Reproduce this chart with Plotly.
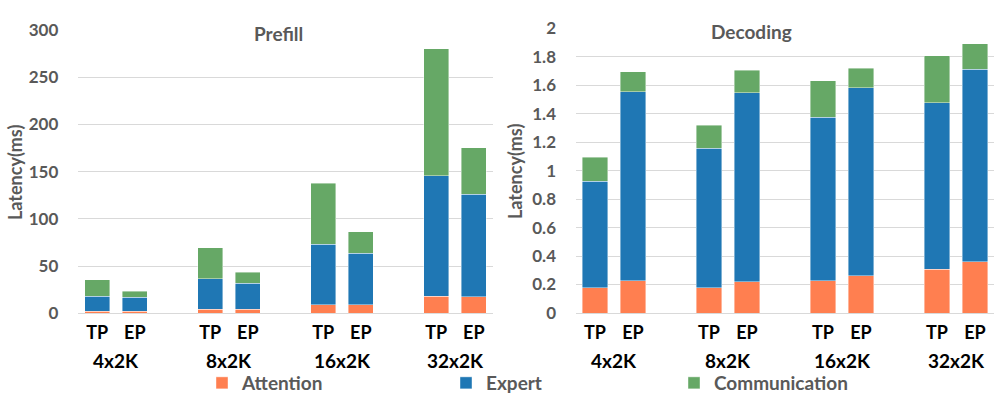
import plotly.graph_objects as go

# ---------------- data ----------------
groups = ["4x2K", "8x2K", "16x2K", "32x2K"]
modes = ["TP", "EP"]
series_names = ["Attention", "Expert", "Communication"]

# Prefill (ms): order per group TP, EP
prefill_attention = [2.1, 2.1, 4.5, 4.5, 9.2, 9.2, 18.0, 17.3]
prefill_expert = [16.2, 14.9, 32.2, 27.3, 63.9, 54.3, 127.8, 108.7]
prefill_comm = [17.0, 6.6, 32.8, 11.9, 64.6, 22.9, 134.2, 49.1]

# Decoding (ms)
decode_attention = [0.178, 0.225, 0.178, 0.220, 0.225, 0.262, 0.309, 0.360]
decode_expert = [0.749, 1.328, 0.981, 1.328, 1.150, 1.319, 1.168, 1.354]
decode_comm = [0.167, 0.142, 0.159, 0.159, 0.255, 0.138, 0.331, 0.178]

prefill_ticks = [0, 50, 100, 150, 200, 250, 300]
decode_ticks = [0, 0.2, 0.4, 0.6, 0.8, 1, 1.2, 1.4, 1.6, 1.8, 2]
decode_ticktext = ["0", "0.2", "0.4", "0.6", "0.8", "1", "1.2", "1.4", "1.6", "1.8", "2"]

colors = {"Attention": "#FF7F50", "Expert": "#1F77B4", "Communication": "#66A866"}

# ---------------- layout helpers ----------------
W, H = 997, 397
GROUP_STEP = 3
xpos = [g * GROUP_STEP + m for g in range(len(groups)) for m in range(len(modes))]
xlabels = [m for g in groups for m in modes]
group_centers = [g * GROUP_STEP + 0.5 for g in range(len(groups))]

FONT = "Lato, 'Open Sans', sans-serif"
GRAY = "#595959"

def py(pix):
    return (H - pix) / H

def px(pix):
    return pix / W

fig = go.Figure()

panels = [
    ("x", "y", [prefill_attention, prefill_expert, prefill_comm]),
    ("x2", "y2", [decode_attention, decode_expert, decode_comm]),
]
legend_ids = ["legend", "legend2", "legend3"]
for pi, (xa, ya, vals) in enumerate(panels):
    for si, name in enumerate(series_names):
        fig.add_trace(go.Bar(
            x=xpos, y=vals[si], name=name, xaxis=xa, yaxis=ya,
            width=0.66,
            marker=dict(color=colors[name], line=dict(color="rgba(255,255,255,0.7)", width=0.6)),
            showlegend=(pi == 0), legend=legend_ids[si],
            hovertemplate=name + ": %{y}<extra></extra>",
        ))

axis_common = dict(
    range=[-0.5, 10.5], tickmode="array", tickvals=xpos, ticktext=xlabels,
    showgrid=False, zeroline=False, showline=False, ticks="",
    tickfont=dict(family=FONT, size=18, color="black", weight="bold"),
    ticklabelstandoff=7, fixedrange=True, automargin=False,
)
yaxis_common = dict(
    showgrid=True, gridcolor="#D9D9D9", gridwidth=1, zeroline=True,
    zerolinecolor="#D9D9D9", zerolinewidth=1, showline=False, ticks="",
    tickfont=dict(family=FONT, size=17, color=GRAY, weight="bold"),
    ticklabelstandoff=19, fixedrange=True, automargin=False,
)

fig.update_layout(
    width=W, height=H,
    margin=dict(l=0, r=0, t=0, b=0, autoexpand=False),
    paper_bgcolor="white", plot_bgcolor="white",
    barmode="stack",
    xaxis=dict(domain=[px(78.3), px(492.7)], anchor="y", **axis_common),
    xaxis2=dict(domain=[px(576), px(994)], anchor="y2", **axis_common),
    yaxis=dict(domain=[py(313.3), py(30)], anchor="x", range=[0, 300],
               tickvals=prefill_ticks, **yaxis_common),
    yaxis2=dict(domain=[py(313), py(28.3)], anchor="x2", range=[0, 2],
                tickvals=decode_ticks, ticktext=decode_ticktext, **yaxis_common),
    showlegend=True,
)

legend_text_x = [241, 485, 713]
for i, lid in enumerate(legend_ids):
    fig.update_layout({lid: dict(
        x=px(legend_text_x[i] - 39), y=py(383), xanchor="left", yanchor="middle",
        xref="container", yref="container",
        orientation="h", bgcolor="rgba(0,0,0,0)",
        font=dict(family=FONT, size=19, color=GRAY, weight="bold"),
        itemwidth=30, tracegroupgap=0,
    )})

title_font = dict(family=FONT, size=19, color=GRAY, weight="bold")
common_ann = dict(xref="paper", yref="paper", showarrow=False, xanchor="center", yanchor="middle")
annotations = [
    dict(text="Prefill", x=px(278), y=py(33), font=title_font, **common_ann),
    dict(text="Decoding", x=px(751), y=py(32), font=title_font, **common_ann),
    dict(text="Latency(ms)", x=px(15), y=py(173), textangle=-90,
         font=dict(family=FONT, size=18, color=GRAY, weight="bold"), **common_ann),
    dict(text="Latency(ms)", x=px(515), y=py(172), textangle=-90,
         font=dict(family=FONT, size=18, color=GRAY, weight="bold"), **common_ann),
]
for xa in ["x", "x2"]:
    for gi, g in enumerate(groups):
        annotations.append(dict(
            text=g, x=group_centers[gi], y=py(360), xref=xa, yref="paper", showarrow=False,
            xanchor="center", yanchor="middle",
            font=dict(family=FONT, size=19, color="black", weight="bold"),
        ))
fig.update_layout(annotations=annotations)

fig.write_html(
    "out.html",
    config={"displayModeBar": False},
    post_script="document.body.style.margin='0';document.body.style.overflow='hidden';",
)
